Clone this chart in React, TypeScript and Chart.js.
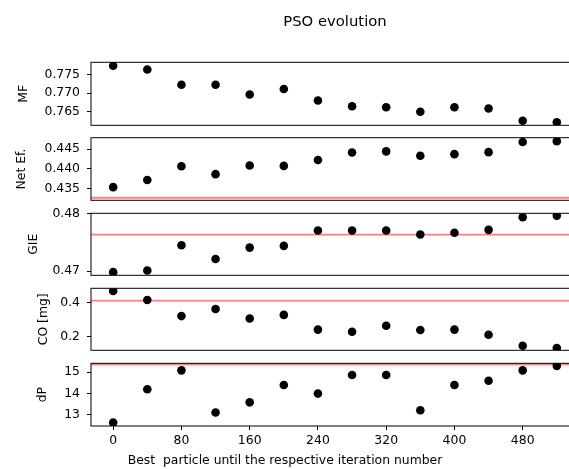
import React, { useEffect, useRef } from 'react';
import { Chart, registerables } from 'chart.js';

Chart.register(...registerables);

// ---- data ----
const iterations = [0, 40, 80, 120, 160, 200, 240, 280, 320, 360, 400, 440, 480, 520];
const xTicks = [0, 80, 160, 240, 320, 400, 480];
const xRange = [-26, 546];

const mfValues = [0.7773, 0.7763, 0.7722, 0.7722, 0.7696, 0.7711, 0.768, 0.7665, 0.7662, 0.765, 0.7662, 0.7659, 0.7626, 0.7622];
const netEfValues = [0.4353, 0.4371, 0.4406, 0.4386, 0.4408, 0.4407, 0.4422, 0.4441, 0.4444, 0.4433, 0.4437, 0.4442, 0.4468, 0.447];
const gieValues = [0.4698, 0.4701, 0.4745, 0.4721, 0.4741, 0.4744, 0.4771, 0.4771, 0.4771, 0.4764, 0.4767, 0.4772, 0.4794, 0.4797];
const coValues = [0.468, 0.416, 0.322, 0.363, 0.308, 0.329, 0.243, 0.231, 0.266, 0.241, 0.243, 0.213, 0.149, 0.136];
const dpValues = [12.64, 14.2, 15.09, 13.11, 13.59, 14.4, 14.0, 14.87, 14.87, 13.22, 14.4, 14.6, 15.09, 15.3];

const netEfRef = 0.4326;
const gieRef = 0.47637;
const coRef = 0.4117;
const dpRef = 15.375;

const mfTicks = [0.765, 0.77, 0.775];
const netEfTicks = [0.435, 0.44, 0.445];
const gieTicks = [0.47, 0.48];
const coTicks = [0.2, 0.4];
const dpTicks = [13, 14, 15];

const mfRange = [0.7614, 0.7782];
const netEfRange = [0.43195, 0.44788];
const gieRange = [0.46925, 0.4801];
const coRange = [0.1224, 0.484];
const dpRange = [12.48, 15.42];

const yLabels = ['MF', 'Net Ef.', 'GIE', 'CO [mg]', 'dP'];
const titleText = 'PSO evolution';
const xLabel = 'Best  particle until the respective iteration number';

// ---- layout (pixels) ----
const H = 469;
const panelTops = [62.3, 137.7, 213.3, 288.3, 363.3];
const panelBottoms = [125.3, 200.3, 275.3, 350.3, 426];
const yTitleCenters = [24, 21.7, 33.3, 43.3, 42.5];
const AXIS_LEFT = 91;
const AXIS_RIGHT = 579;
const LAST_SHIFT = 9;
const FONT = 'DejaVu Sans';
const FS = 12.4;

const panels = [
  { values: mfValues, ref: null as number | null, ticks: mfTicks, range: mfRange, dec: 3, label: yLabels[0] },
  { values: netEfValues, ref: netEfRef, ticks: netEfTicks, range: netEfRange, dec: 3, label: yLabels[1] },
  { values: gieValues, ref: gieRef, ticks: gieTicks, range: gieRange, dec: 2, label: yLabels[2] },
  { values: coValues, ref: coRef, ticks: coTicks, range: coRange, dec: 1, label: yLabels[3] },
  { values: dpValues, ref: dpRef, ticks: dpTicks, range: dpRange, dec: 0, label: yLabels[4] },
];

const framePlugin = {
  id: 'frame',
  afterDraw(chart: any) {
    const { ctx, chartArea: a } = chart;
    ctx.save();
    ctx.strokeStyle = '#000';
    ctx.lineWidth = 1;
    ctx.strokeRect(a.left, a.top, a.right - a.left, a.bottom - a.top);
    ctx.restore();
  },
};

function canvasWidth(i: number) {
  return i === panels.length - 1 ? 679 : 670;
}

function makeChart(canvas: HTMLCanvasElement, p: (typeof panels)[number], i: number) {
  const isFirst = i === 0;
  const isLast = i === panels.length - 1;
  const shift = isLast ? LAST_SHIFT : 0;
  const W = canvasWidth(i);
  const datasets: any[] = [
    {
      data: iterations.map((x, k) => ({ x, y: p.values[k] })),
      pointRadius: 4.3,
      pointHoverRadius: 4.3,
      pointBackgroundColor: '#000',
      pointBorderWidth: 0,
      showLine: false,
      clip: 0,
      order: 0,
    },
  ];
  if (p.ref !== null) {
    datasets.push({
      data: xRange.map((x) => ({ x, y: p.ref })),
      showLine: true,
      borderColor: 'rgba(255,0,0,0.5)',
      borderWidth: 1.8,
      pointRadius: 0,
      clip: 0,
      order: 1,
    });
  }
  const font = { family: FONT, size: FS };
  const xAxisHeight = 25;
  return new Chart(canvas, {
    type: 'scatter',
    data: { datasets },
    plugins: [framePlugin],
    options: {
      animation: false,
      responsive: false,
      maintainAspectRatio: false,
      events: [],
      layout: {
        padding: {
          left: 0,
          right: W - (AXIS_RIGHT + shift),
          top: isFirst ? 0 : panelTops[i],
          bottom: isLast ? 0 : H - panelBottoms[i],
        },
      },
      plugins: {
        legend: { display: false },
        tooltip: { enabled: false },
        title: isFirst
          ? {
              display: true,
              text: titleText,
              fullSize: false,
              color: '#000',
              font: { family: FONT, size: 14.8, weight: 'normal' },
              padding: { top: 13.1, bottom: panelTops[0] - 13.1 - 14.8 * 1.2 },
            }
          : isLast
          ? {
              display: true,
              position: 'bottom',
              text: xLabel,
              color: '#000',
              font: { family: FONT, size: FS, weight: 'normal' },
              padding: { top: 2, bottom: H - panelBottoms[i] - xAxisHeight - 2 - FS * 1.2 },
            }
          : { display: false },
      },
      scales: {
        x: {
          type: 'linear',
          min: xRange[0],
          max: xRange[1],
          bounds: 'data',
          display: isLast,
          afterBuildTicks: (s: any) => {
            s.ticks = xTicks.map((v) => ({ value: v }));
          },
          afterFit: (s: any) => {
            s.height = isLast ? xAxisHeight : 0;
          },
          ticks: {
            font,
            color: '#000',
            padding: 3,
            autoSkip: false,
            maxRotation: 0,
            callback: (v: any) => String(v),
          },
          grid: { drawOnChartArea: false, drawTicks: true, tickLength: 4, color: '#000', lineWidth: 1 },
          border: { display: false },
        },
        y: {
          type: 'linear',
          min: p.range[0],
          max: p.range[1],
          bounds: 'data',
          afterBuildTicks: (s: any) => {
            s.ticks = p.ticks.map((v) => ({ value: v }));
          },
          afterFit: (s: any) => {
            s.width = AXIS_LEFT + shift;
          },
          ticks: {
            font,
            color: '#000',
            padding: 7,
            autoSkip: false,
            callback: (v: any) => Number(v).toFixed(p.dec),
          },
          grid: { drawOnChartArea: false, drawTicks: true, tickLength: 4, color: '#000', lineWidth: 1 },
          border: { display: false },
          title: {
            display: true,
            text: p.label,
            color: '#000',
            font,
            padding: { top: yTitleCenters[i] + shift - FS * 0.6, bottom: 0 },
          },
        },
      },
    } as any,
  });
}

export default function App() {
  const refs = useRef<(HTMLCanvasElement | null)[]>([]);
  useEffect(() => {
    const charts = panels.map((p, i) => makeChart(refs.current[i] as HTMLCanvasElement, p, i));
    return () => charts.forEach((c) => c.destroy());
  }, []);
  return (
    <div
      style={{
        position: 'fixed',
        left: 0,
        top: 0,
        width: 569,
        height: H,
        overflow: 'hidden',
        background: '#fff',
      }}
    >
      {panels.map((_, i) => {
        const w = canvasWidth(i);
        const last = i === panels.length - 1;
        return (
          <canvas
            key={i}
            ref={(el) => {
              refs.current[i] = el;
            }}
            width={w}
            height={H}
            style={{ position: 'absolute', left: last ? -LAST_SHIFT : 0, top: 0, width: w, height: H }}
          />
        );
      })}
    </div>
  );
}
